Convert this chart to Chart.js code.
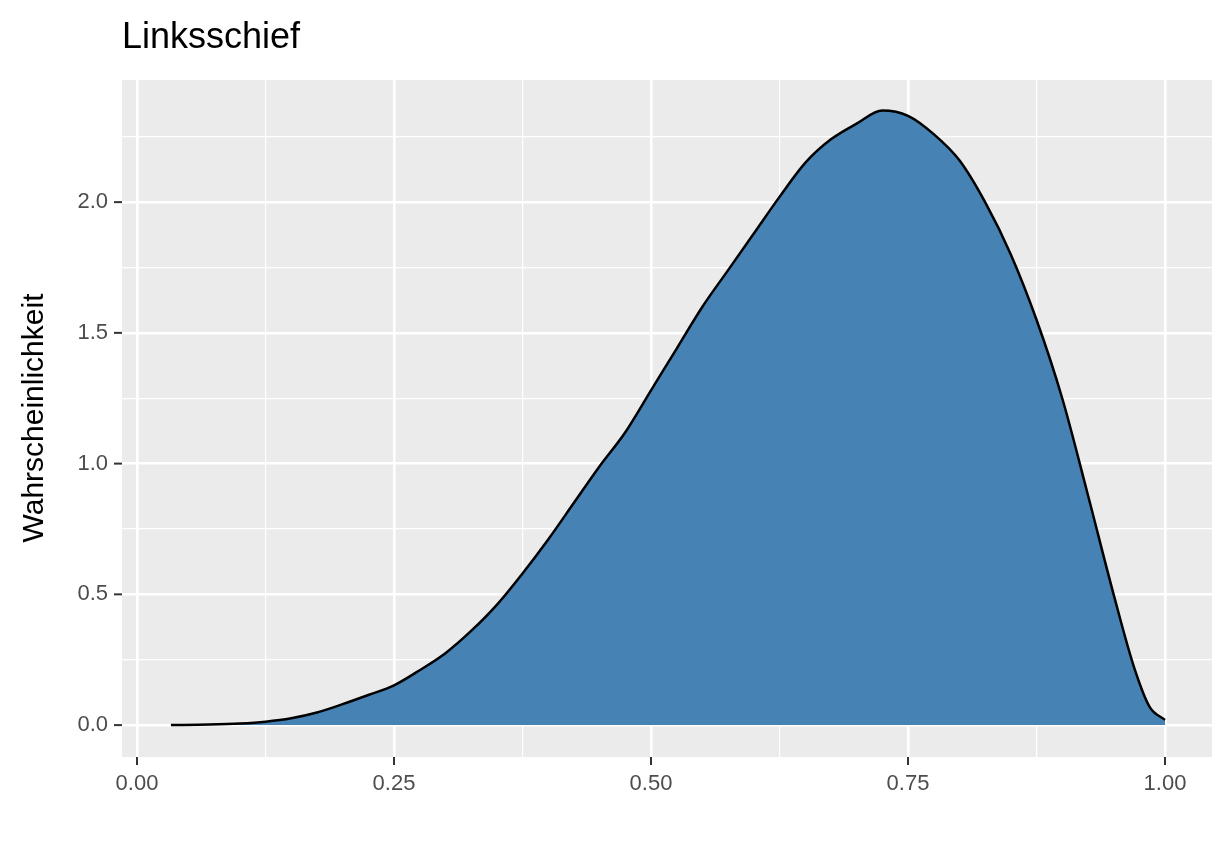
<!DOCTYPE html>
<html><head><meta charset="utf-8">
<script src="https://cdn.jsdelivr.net/npm/chart.js@4"></script>
<style>html,body{margin:0;padding:0;background:#fff}#w{width:1232px;height:864px}</style>
</head><body><div id="w"><canvas id="c"></canvas></div>
<script>
const xValues = [0.033,0.07,0.1,0.125,0.15,0.175,0.2,0.225,0.25,0.275,0.3,0.325,0.35,0.375,0.4,0.425,0.45,0.475,0.5,0.525,0.55,0.575,0.6,0.625,0.65,0.675,0.7,0.725,0.75,0.775,0.8,0.825,0.85,0.875,0.9,0.925,0.95,0.97,0.985,1.0];
const densityValues = [0.0,0.002,0.006,0.013,0.026,0.048,0.08,0.115,0.152,0.21,0.275,0.36,0.46,0.58,0.71,0.85,0.99,1.12,1.28,1.44,1.6,1.74,1.88,2.02,2.15,2.24,2.3,2.35,2.33,2.26,2.16,2.0,1.8,1.55,1.25,0.88,0.5,0.22,0.07,0.02];
const xTicks = [0,0.25,0.5,0.75,1.0];
const yTicks = [0,0.5,1.0,1.5,2.0];
const titleText = 'Linksschief';
const yTitle = 'Wahrscheinlichkeit';

const pts = xValues.map((x,i)=>({x, y: densityValues[i]}));
const gridW = c => (c.tick && c.tick.major) ? 2.6 : 1.2;
const bg = {id:'bg', beforeDraw(ch){const a=ch.chartArea,x=ch.ctx;x.save();x.fillStyle='#ebebeb';x.fillRect(a.left,a.top,a.right-a.left,a.bottom-a.top);x.restore();},
 afterDraw(ch){const x=ch.ctx;x.save();x.fillStyle='#000';x.font='36px "Liberation Sans", Arial';x.textBaseline='middle';x.fillText(titleText,122,38);
 x.translate(35,418);x.rotate(-Math.PI/2);x.textAlign='center';x.font='30px "Liberation Sans", Arial';x.fillText(yTitle,0,0);x.restore();}};
function mkTicks(list, step){return function(s){const t=[];const n=Math.round(list[list.length-1]/step*2);for(let i=-1;i<=n+2;i++){const v=i*step/2;if(v<s.min||v>s.max)continue;t.push({value:v,major:i%2===0&&list.some(l=>Math.abs(l-v)<1e-9)});}s.ticks=t;};}
new Chart(document.getElementById('c'),{type:'line',
 data:{datasets:[{data:pts,fill:'origin',backgroundColor:'#4682b4',borderColor:'#000',borderWidth:2.5,pointRadius:0,tension:0.4,cubicInterpolationMode:'monotone'}]},
 options:{responsive:true,maintainAspectRatio:false,animation:false,
  layout:{padding:{left:0,top:80,right:20,bottom:0}},
  plugins:{legend:{display:false},tooltip:{enabled:false}},
  scales:{
   x:{type:'linear',min:-0.0146,max:1.0457,afterBuildTicks:mkTicks(xTicks,0.25),afterFit(s){s.height=107;},
     grid:{color:'#fff',lineWidth:gridW,drawTicks:false},border:{display:false},
     ticks:{autoSkip:false,maxRotation:0,padding:14,color:'#4d4d4d',font:{size:22,family:'"Liberation Sans", Arial'},callback:(v,i,t)=>t[i].major?v.toFixed(2):''}},
   y:{type:'linear',min:-0.122,max:2.467,afterBuildTicks:mkTicks(yTicks,0.5),afterFit(s){s.width=122;},
     grid:{color:'#fff',lineWidth:gridW,drawTicks:false},border:{display:false},
     ticks:{autoSkip:false,padding:14,color:'#4d4d4d',font:{size:22,family:'"Liberation Sans", Arial'},callback:(v,i,t)=>t[i].major?v.toFixed(1):''}}
  }},
 plugins:[bg,{id:'tk',afterDraw(ch){const x=ch.ctx,a=ch.chartArea;x.save();x.strokeStyle='#333';x.lineWidth=2;
  ch.scales.x.ticks.forEach(t=>{if(!t.major)return;const p=ch.scales.x.getPixelForValue(t.value);x.beginPath();x.moveTo(p,a.bottom);x.lineTo(p,a.bottom+8);x.stroke();});
  ch.scales.y.ticks.forEach(t=>{if(!t.major)return;const p=ch.scales.y.getPixelForValue(t.value);x.beginPath();x.moveTo(a.left-8,p);x.lineTo(a.left,p);x.stroke();});x.restore();}}]
});
</script></body></html>
